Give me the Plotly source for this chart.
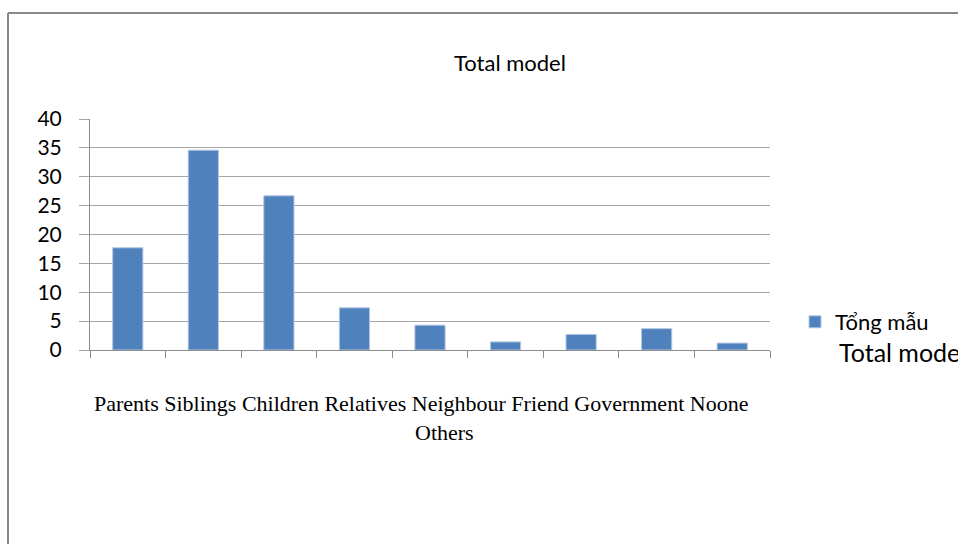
import plotly.graph_objects as go

categories = ["Parents", "Siblings", "Children", "Relatives", "Neighbour",
              "Friend", "Government", "Noone", "Others"]
values = [17.7, 34.6, 26.7, 7.3, 4.3, 1.4, 2.7, 3.7, 1.2]
series_name = "Tổng mẫu"
title_text = "Total model"
legend_caption = "Total model"

W, H = 958, 544
L, R, T, B = 90, 188, 119, 194
PW, PH = W - L - R, H - T - B


def px_x(x):
    return (x - L) / PW


def px_y(y):
    return (H - B - y) / PH


fig = go.Figure()
fig.add_trace(go.Bar(
    x=categories, y=values, name=series_name,
    marker=dict(color="#4F81BD", line=dict(color="#B3C8E3", width=1)),
    showlegend=True,
))

axis_gray = "#8c8c8c"
fig.update_layout(
    width=W, height=H,
    margin=dict(l=L, r=R, t=T, b=B),
    paper_bgcolor="white", plot_bgcolor="white",
    bargap=0.6,
    font=dict(family="Lato, 'Open Sans', sans-serif", color="#000"),
    xaxis=dict(
        showticklabels=False, showgrid=False,
        showline=True, linecolor=axis_gray, linewidth=1,
        ticks="outside", tickson="boundaries", ticklen=7,
        tickcolor=axis_gray, tickwidth=1,
    ),
    yaxis=dict(
        range=[0, 40], dtick=5, tick0=0,
        showgrid=True, gridcolor="#a6a6a6", gridwidth=1,
        showline=True, linecolor=axis_gray, linewidth=1,
        ticks="outside", ticklen=10, tickcolor="#a6a6a6",
        tickfont=dict(size=21, family="Lato, sans-serif", color="#000"),
        ticklabelstandoff=13,
        zeroline=False,
    ),
    legend=dict(
        x=px_x(795), y=px_y(322), xanchor="left", yanchor="middle",
        font=dict(size=22, family="Lato, sans-serif"),
        bgcolor="rgba(0,0,0,0)",
    ),
)

serif = "'Liberation Serif', 'Times New Roman', serif"
annotations = [
    dict(text=title_text, x=px_x(510), y=px_y(62), xref="paper", yref="paper",
         xanchor="center", yanchor="middle", showarrow=False,
         font=dict(size=22, family="Lato, sans-serif", color="#000")),
    dict(text=" ".join(categories[:-1]),
         x=px_x(421), y=px_y(403), xref="paper", yref="paper",
         xanchor="center", yanchor="middle", showarrow=False,
         font=dict(size=22, family=serif, color="#000")),
    dict(text=categories[-1],
         x=px_x(444), y=px_y(432), xref="paper", yref="paper",
         xanchor="center", yanchor="middle", showarrow=False,
         font=dict(size=22, family=serif, color="#000")),
    dict(text=legend_caption, x=px_x(837), y=px_y(352), xref="paper", yref="paper",
         xanchor="left", yanchor="middle", showarrow=False,
         font=dict(size=25, family="Lato, sans-serif", color="#000")),
]
fig.update_layout(annotations=annotations)

border = "#888888"
fig.add_shape(type="line", xref="paper", yref="paper",
              x0=px_x(8), x1=px_x(980), y0=px_y(13), y1=px_y(13),
              line=dict(color=border, width=2))
fig.add_shape(type="line", xref="paper", yref="paper",
              x0=px_x(8), x1=px_x(8), y0=px_y(13), y1=px_y(560),
              line=dict(color=border, width=2))

fig.write_html("out.html")
